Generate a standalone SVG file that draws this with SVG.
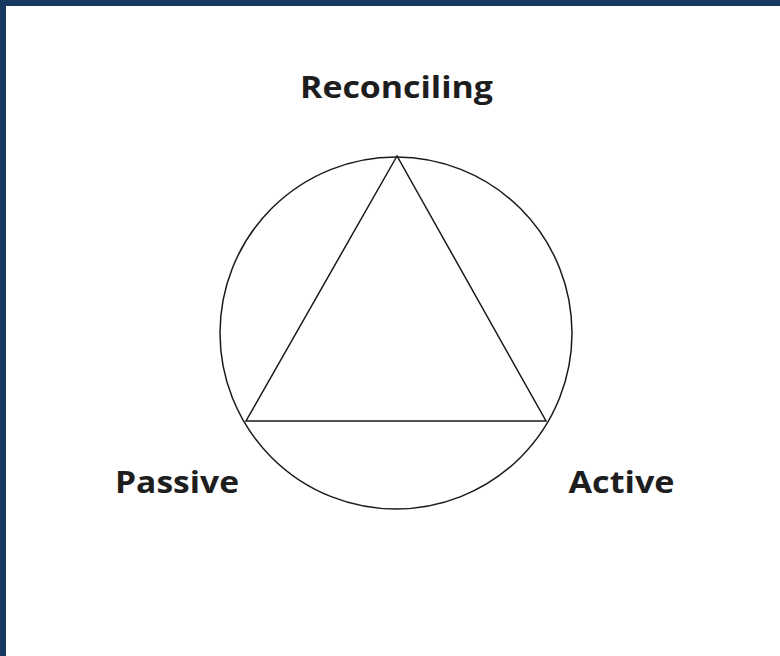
<svg xmlns="http://www.w3.org/2000/svg" width="780" height="656" viewBox="0 0 780 656">
<style>
.lbl{font-family:"Open Sans","DejaVu Sans",sans-serif;font-weight:700;font-size:30px;fill:#1e1e1e}
.ln{fill:none;stroke:#1a1a1a;stroke-width:1.5}
</style>
<rect x="0" y="0" width="780" height="656" fill="#ffffff"/>
<rect x="0" y="0" width="780" height="6" fill="#163a61"/>
<rect x="0" y="0" width="6" height="656" fill="#163a61"/>
<g id="circle"><circle class="ln" cx="396" cy="333" r="176"/></g>
<g id="connectors">
<polygon class="ln" points="397,156 246,421 546,421"/>
</g>
<g id="reconciling"><text class="lbl" x="396.5" y="98" text-anchor="middle" textLength="193" lengthAdjust="spacingAndGlyphs">Reconciling</text></g>
<g id="passive"><text class="lbl" x="177" y="493" text-anchor="middle" textLength="124" lengthAdjust="spacingAndGlyphs">Passive</text></g>
<g id="active"><text class="lbl" x="621.5" y="493" text-anchor="middle" textLength="106" lengthAdjust="spacingAndGlyphs">Active</text></g>
</svg>
